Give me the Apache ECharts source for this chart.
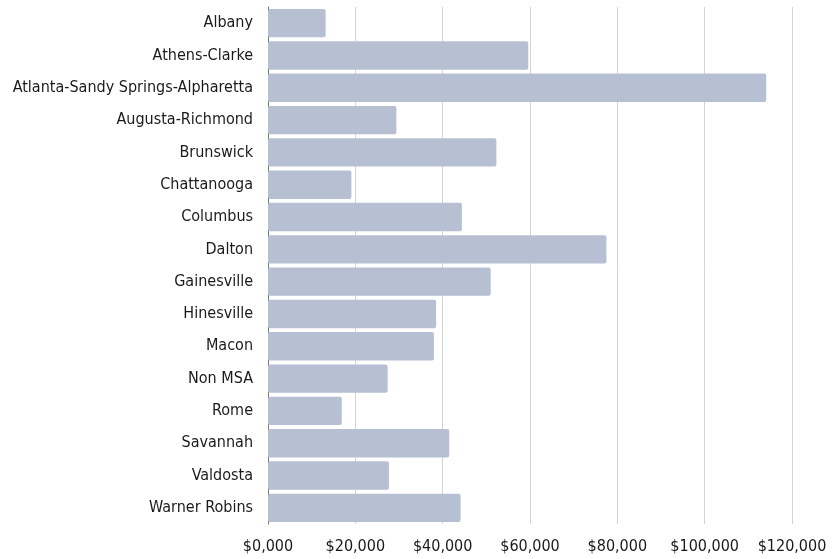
<!DOCTYPE html>
<html>
<head>
<meta charset="utf-8">
<script src="https://cdn.jsdelivr.net/npm/echarts@6/dist/echarts.min.js"></script>
<style>html,body{margin:0;padding:0;background:#fff}#c{width:838px;height:559px}</style>
</head>
<body>
<div id="c"></div>
<script>
const categories = ["Albany","Athens-Clarke","Atlanta-Sandy Springs-Alpharetta","Augusta-Richmond","Brunswick","Chattanooga","Columbus","Dalton","Gainesville","Hinesville","Macon","Non MSA","Rome","Savannah","Valdosta","Warner Robins"];
const values = [13200,59600,114100,29400,52300,19100,44400,77500,51000,38500,38000,27400,16900,41500,27700,44100];
const xTicks = [0,20000,40000,60000,80000,100000,120000];

const FONT = "'DejaVu Sans Condensed', sans-serif";
const chart = echarts.init(document.getElementById('c'));
chart.setOption({
  animation: false,
  grid: {left: 268, right: 46, top: 7, bottom: 35, containLabel: false, outerBoundsMode: 'none'},
  xAxis: {
    type: 'value', min: xTicks[0], max: xTicks[xTicks.length-1], interval: 20000,
    axisLine: {show: false}, axisTick: {show: false},
    splitLine: {lineStyle: {color: '#d4d4d4', width: 1}},
    axisLabel: {
      margin: 15, color: '#1a1a1a', fontSize: 16, fontFamily: FONT,
      formatter: v => v === 0 ? '$0,000' : '$' + v.toLocaleString('en-US')
    }
  },
  yAxis: {
    type: 'category', data: categories, inverse: true,
    axisLine: {show: true, lineStyle: {color: '#777', width: 1}},
    axisTick: {show: false},
    axisLabel: {margin: 15, color: '#1a1a1a', fontSize: 16, fontFamily: FONT}
  },
  series: [{
    type: 'bar', data: values, barCategoryGap: '12%',
    itemStyle: {color: '#b7c0d3', borderRadius: 2}
  }]
});
</script>
</body>
</html>
